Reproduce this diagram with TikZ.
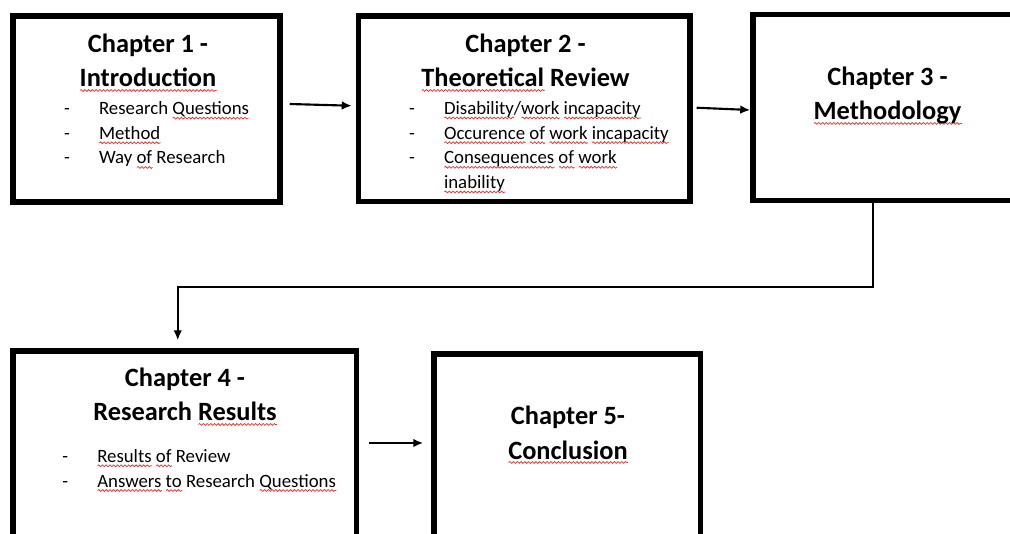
\documentclass[tikz,border=0pt]{standalone}
\usepackage{fontspec}
\setmainfont{Carlito}
\usetikzlibrary{arrows.meta,calc,decorations.pathmorphing}

\definecolor{spellred}{RGB}{228,52,52}
% red wavy mark under a word
\newsavebox{\splbox}
\newlength{\splwd}
\newcommand{\spl}[1]{\sbox{\splbox}{#1}\setlength{\splwd}{\wd\splbox}\rlap{\tikz[baseline=0pt]\draw[splwave] (0pt,-2.6pt) -- (\splwd,-2.6pt);}\usebox{\splbox}}
\newcommand{\itemdash}{\makebox[26.25pt][l]{-}}

\tikzset{
  chapbox/.style={draw, line width=4.1pt, inner sep=0pt},
  chaptitle/.style={inner sep=0pt, align=center, font=\fontsize{19.8}{26}\selectfont\bfseries},
  chaplist/.style={inner sep=0pt, align=left, font=\fontsize{14.1}{18.5}\selectfont},
  flow/.style={line width=1.6pt, -{Latex[length=7.5pt,width=6.5pt]}},
  splwave/.style={reset cm, spellred, line width=0.55pt, decorate, decoration={snake, amplitude=0.7pt, segment length=2.8pt}},
}

\begin{document}
\begin{tikzpicture}[x=0.75pt,y=0.75pt,yscale=-1,xscale=1]
\useasboundingbox (0,0) rectangle (1010,534);

%Shape: Rectangle
\node [chapbox, minimum width=200.25pt, minimum height=139.5pt] (ch1) at (146.5,109) {};
%Shape: Rectangle
\node [chapbox, minimum width=248.6pt, minimum height=139.1pt] (ch2) at (524.25,108.75) {};
%Shape: Rectangle
\node [chapbox, minimum width=204pt, minimum height=139.5pt] (ch3) at (889,107.5) {};
%Shape: Rectangle
\node [chapbox, minimum width=257.6pt, minimum height=141.75pt] (ch4) at (184.75,445.5) {};
%Shape: Rectangle
\node [chapbox, minimum width=199.9pt, minimum height=139.5pt] (ch5) at (567.25,447) {};

% Text Node
\node [chaptitle, anchor=base] (ch1title) at (148,87) {Chapter 1 -\\\spl{Introduction}};
% Text Node
\node [chaplist, anchor=base west] (ch1list) at (63.8,164) {\itemdash Research \spl{Questions}\\\itemdash \spl{Method}\\\itemdash Way \spl{of} Research};
% Text Node
\node [chaptitle, anchor=base] (ch2title) at (525.5,87) {Chapter 2 -\\\spl{Theoretical} Review};
% Text Node
\node [chaplist, anchor=base west] (ch2list) at (408.8,188.5) {\itemdash \spl{Disability}/\spl{work} \spl{incapacity}\\\itemdash \spl{Occurence} \spl{of} \spl{work} \spl{incapacity}\\\itemdash \spl{Consequences} \spl{of} \spl{work}\\\hspace*{26.25pt}\spl{inability}};
% Text Node
\node [chaptitle, anchor=base] (ch3title) at (887.5,120) {Chapter 3 -\\\spl{Methodology}};
% Text Node
\node [chaptitle, anchor=base] (ch4title) at (185,421) {Chapter 4 -\\Research \spl{Results}};
% Text Node
\node [chaplist, anchor=base west] (ch4list) at (62,487) {\itemdash \spl{Results} \spl{of} Review\\\itemdash \spl{Answers} \spl{to} Research \spl{Questions}};
% Text Node
\node [chaptitle, anchor=base] (ch5title) at (568,459) {Chapter 5-\\\spl{Conclusion}};

%Straight Lines
\draw [flow] ($(ch1.east)+(7,-5)$) -- ($(ch2.west)+(-4,-3)$);
%Straight Lines
\draw [flow] ($(ch2.east)+(4,-1)$) -- ($(ch3.west)+(0,2.5)$);
%Elbow Lines
\draw [flow] ($(ch3.south)+(-16,0)$) |- ($(ch4.north)+(-7,-61)$) -- ($(ch4.north)+(-7,-8)$);
%Straight Lines
\draw [flow] ($(ch4.east)+(10,-2.5)$) -- ($(ch5.west)+(-8,-4)$);

\end{tikzpicture}
\end{document}
